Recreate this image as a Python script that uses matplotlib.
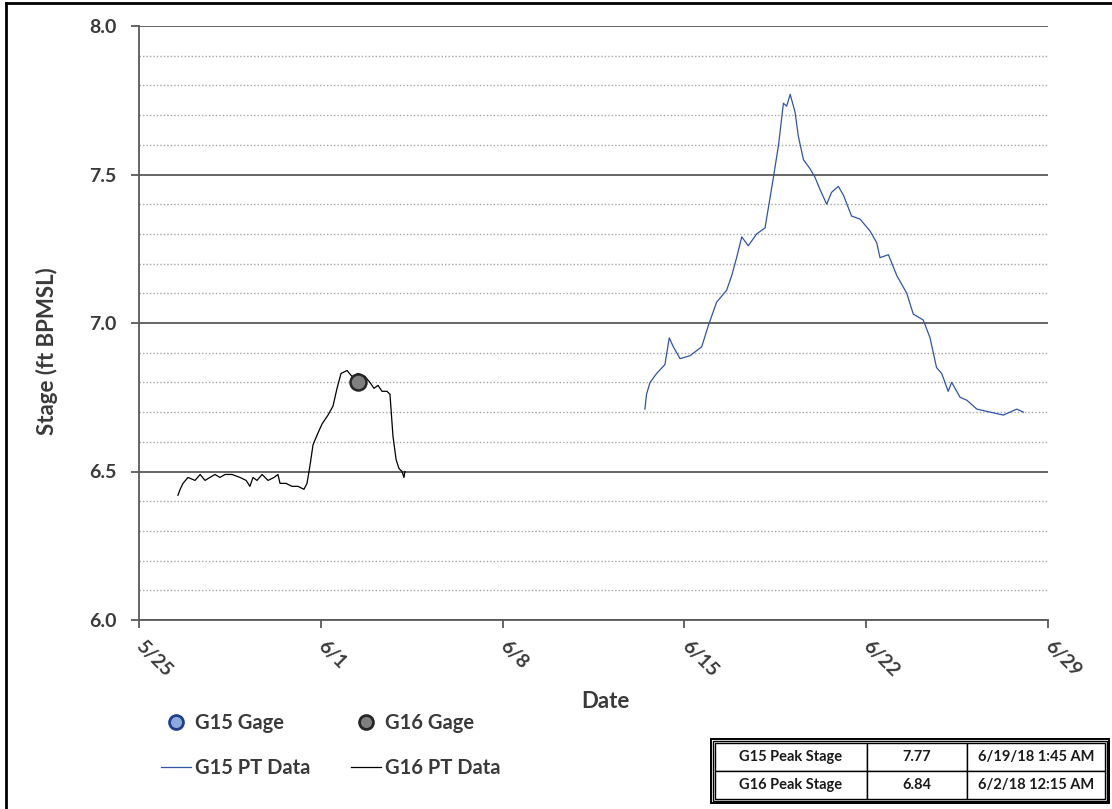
import numpy as np
import pandas as pd
import matplotlib
matplotlib.use("Agg")
import matplotlib.pyplot as plt
from matplotlib.lines import Line2D
from matplotlib.patches import Rectangle

plt.rcParams['font.family'] = ['Lato', 'DejaVu Sans']
plt.rcParams['font.weight'] = 'bold'

TXT = '#3a3a3a'

# G16 PT data (stage, ft BPMSL)
g16_time = ["2018-05-26 12:00", "2018-05-26 14:00", "2018-05-26 16:40", "2018-05-26 21:15",
            "2018-05-27 03:45", "2018-05-27 08:30", "2018-05-27 13:00", "2018-05-27 17:30",
            "2018-05-27 22:15", "2018-05-28 02:45", "2018-05-28 07:30", "2018-05-28 14:00",
            "2018-05-28 21:20", "2018-05-29 03:00", "2018-05-29 06:30", "2018-05-29 09:20",
            "2018-05-29 13:00", "2018-05-29 17:45", "2018-05-29 23:15", "2018-05-30 04:45",
            "2018-05-30 08:25", "2018-05-30 10:20", "2018-05-30 15:50", "2018-05-30 21:20",
            "2018-05-31 03:00", "2018-05-31 08:25", "2018-05-31 11:15", "2018-05-31 14:00",
            "2018-05-31 16:50", "2018-05-31 21:25", "2018-06-01 01:10", "2018-06-01 06:40",
            "2018-06-01 11:15", "2018-06-01 15:00", "2018-06-01 18:40", "2018-06-02 00:15",
            "2018-06-02 04:50", "2018-06-02 10:20", "2018-06-02 16:50", "2018-06-02 21:25",
            "2018-06-03 01:10", "2018-06-03 04:50", "2018-06-03 08:35", "2018-06-03 13:10",
            "2018-06-03 15:55", "2018-06-03 18:40", "2018-06-03 21:35", "2018-06-04 00:15",
            "2018-06-04 03:05", "2018-06-04 04:50", "2018-06-04 05:45"]
g16_stage = [6.42, 6.44, 6.46, 6.48,
             6.47, 6.49, 6.47, 6.48,
             6.49, 6.48, 6.49, 6.49,
             6.48, 6.47, 6.45, 6.48,
             6.47, 6.49, 6.47, 6.48,
             6.49, 6.46, 6.46, 6.45,
             6.45, 6.44, 6.46, 6.52,
             6.59, 6.63, 6.66, 6.69,
             6.72, 6.78, 6.83, 6.84,
             6.82, 6.83, 6.82, 6.80,
             6.78, 6.79, 6.77, 6.77,
             6.76, 6.62, 6.54, 6.51,
             6.50, 6.48, 6.50]

# G15 PT data
g15_time = ["2018-06-13 11:30", "2018-06-13 13:00", "2018-06-13 16:15", "2018-06-13 22:20",
            "2018-06-14 06:00", "2018-06-14 10:00", "2018-06-14 13:45", "2018-06-14 20:00",
            "2018-06-15 05:15", "2018-06-15 16:00", "2018-06-15 22:00", "2018-06-16 05:45",
            "2018-06-16 15:00", "2018-06-16 19:45", "2018-06-17 00:15", "2018-06-17 05:00",
            "2018-06-17 11:00", "2018-06-17 18:45", "2018-06-18 02:30", "2018-06-18 10:15",
            "2018-06-18 15:00", "2018-06-18 19:30", "2018-06-18 22:30", "2018-06-19 01:45",
            "2018-06-19 06:15", "2018-06-19 09:15", "2018-06-19 14:00", "2018-06-19 20:00",
            "2018-06-20 00:45", "2018-06-20 05:15", "2018-06-20 11:30", "2018-06-20 16:00",
            "2018-06-20 22:15", "2018-06-21 03:00", "2018-06-21 10:30", "2018-06-21 18:15",
            "2018-06-22 03:30", "2018-06-22 09:45", "2018-06-22 12:45", "2018-06-22 20:30",
            "2018-06-23 04:15", "2018-06-23 13:30", "2018-06-23 19:30", "2018-06-24 04:45",
            "2018-06-24 11:00", "2018-06-24 17:00", "2018-06-24 21:45", "2018-06-25 03:45",
            "2018-06-25 07:00", "2018-06-25 14:45", "2018-06-25 21:00", "2018-06-26 06:15",
            "2018-06-26 18:30", "2018-06-27 06:45", "2018-06-27 19:10", "2018-06-28 01:15"]
g15_stage = [6.71, 6.76, 6.80, 6.83,
             6.86, 6.95, 6.92, 6.88,
             6.89, 6.92, 6.99, 7.07,
             7.11, 7.16, 7.22, 7.29,
             7.26, 7.30, 7.32, 7.49,
             7.60, 7.74, 7.73, 7.77,
             7.71, 7.63, 7.55, 7.52,
             7.49, 7.45, 7.40, 7.44,
             7.46, 7.43, 7.36, 7.35,
             7.31, 7.27, 7.22, 7.23,
             7.16, 7.10, 7.03, 7.01,
             6.95, 6.85, 6.83, 6.77,
             6.80, 6.75, 6.74, 6.71,
             6.70, 6.69, 6.71, 6.70]

# gage readings
g16_gage_time = ["2018-06-02 10:20"]
g16_gage_stage = [6.80]

tick_dates = ["2018-05-25", "2018-06-01", "2018-06-08", "2018-06-15", "2018-06-22", "2018-06-29"]
tick_labels = ["5/25", "6/1", "6/8", "6/15", "6/22", "6/29"]

table_rows = [["G15 Peak Stage", "7.77", "6/19/18 1:45 AM"],
              ["G16 Peak Stage", "6.84", "6/2/18 12:15 AM"]]

W, H = 1112, 809
fig = plt.figure(figsize=(W / 100, H / 100), dpi=100)
ax = fig.add_axes([139 / W, 1 - 620 / H, (1048 - 139) / W, (620 - 26) / H])

ax.plot(pd.to_datetime(g15_time), g15_stage, color='#2F55A4', lw=0.9, zorder=3)
ax.plot(pd.to_datetime(g16_time), g16_stage, color='black', lw=0.9, zorder=3)
ax.plot(pd.to_datetime(g16_gage_time), g16_gage_stage, 'o', ms=11.5, mfc='#7F7F7F',
        mec='#262626', mew=1.8, zorder=4)

ax.set_xlim(pd.Timestamp(tick_dates[0]), pd.Timestamp(tick_dates[-1]))
ax.set_ylim(6.0, 8.0)
ax.set_xticks(pd.to_datetime(tick_dates))
ax.set_xticklabels(tick_labels, rotation=-45, ha='left', va='center',
                   rotation_mode='anchor', fontweight='bold')
ax.set_yticks(np.arange(6.0, 8.01, 0.5))
ax.set_yticks(np.arange(6.0, 8.01, 0.1), minor=True)
ax.set_yticklabels(["%.1f" % v for v in np.arange(6.0, 8.01, 0.5)], fontweight='bold')

ax.grid(True, which='major', axis='y', color='#595959', lw=1.3, zorder=1)
ax.grid(True, which='minor', axis='y', color='#A6A6A6', lw=1.0, ls=(0, (1, 1.5)), zorder=1)
ax.tick_params(axis='y', which='minor', length=0)
ax.tick_params(axis='both', which='major', direction='out', length=6, width=1.3,
               color='#595959', labelcolor=TXT, labelsize=14)
ax.tick_params(axis='x', pad=11)
ax.tick_params(axis='y', pad=10)

for s in ['top', 'right']:
    ax.spines[s].set_visible(False)
for s in ['left', 'bottom']:
    ax.spines[s].set_color('#595959')
    ax.spines[s].set_linewidth(1.3)

ax.set_ylabel("Stage (ft BPMSL)", fontsize=16, fontweight='bold', color=TXT, va='center')
ax.yaxis.set_label_coords(-(139 - 47) / 909, (620 - 351) / 594)
ax.set_xlabel("Date", fontsize=16, fontweight='bold', color=TXT, va='center')
ax.xaxis.set_label_coords((605 - 139) / 909, -(701 - 620) / 594)

# legend
handles = [
    Line2D([], [], ls='none', marker='o', ms=10, mfc='#8EA9DB', mec='#1F3F8F', mew=2, label='G15 Gage'),
    Line2D([], [], color='#2F55A4', lw=0.9, label='G15 PT Data'),
    Line2D([], [], ls='none', marker='o', ms=10, mfc='#7F7F7F', mec='#262626', mew=2, label='G16 Gage'),
    Line2D([], [], color='black', lw=0.9, label='G16 PT Data'),
]
leg = fig.legend(handles=handles, loc='upper left', bbox_to_anchor=(151 / W, 1 - 703 / H),
                 ncol=2, frameon=False, fontsize=14.5, labelspacing=1.25, columnspacing=2.0,
                 handlelength=1.5, handletextpad=0.2, borderpad=0)
for t in leg.get_texts():
    t.set_color(TXT)
    t.set_fontweight('bold')

# peak stage table
tb = ax.table(cellText=table_rows, cellLoc='center',
              colWidths=[152 / 390, 100 / 390, 138 / 390],
              bbox=[(715 - 139) / 909, -(799 - 620) / 594, 390 / 909, 56 / 594])
tb.auto_set_font_size(False)
for (r, c), cell in tb.get_celld().items():
    cell.set_edgecolor('black')
    cell.set_linewidth(1.0)
    cell.get_text().set_fontsize(10.5)
    cell.get_text().set_fontweight('bold')
    cell.get_text().set_color('#1a1a1a')
fig.patches.append(Rectangle((711 / W, 1 - 803 / H), 398 / W, 64 / H, transform=fig.transFigure,
                             fill=False, ec='black', lw=1.4))
fig.patches.append(Rectangle((713 / W, 1 - 801 / H), 394 / W, 60 / H, transform=fig.transFigure,
                             fill=False, ec='black', lw=1.0))

# outer frame
fig.add_artist(Line2D([6 / W, 6 / W], [0, 1 - 3 / H], color='black', lw=2, transform=fig.transFigure))
fig.add_artist(Line2D([6 / W, 1], [1 - 3 / H, 1 - 3 / H], color='black', lw=2, transform=fig.transFigure))

fig.savefig("out.png", dpi=100)
